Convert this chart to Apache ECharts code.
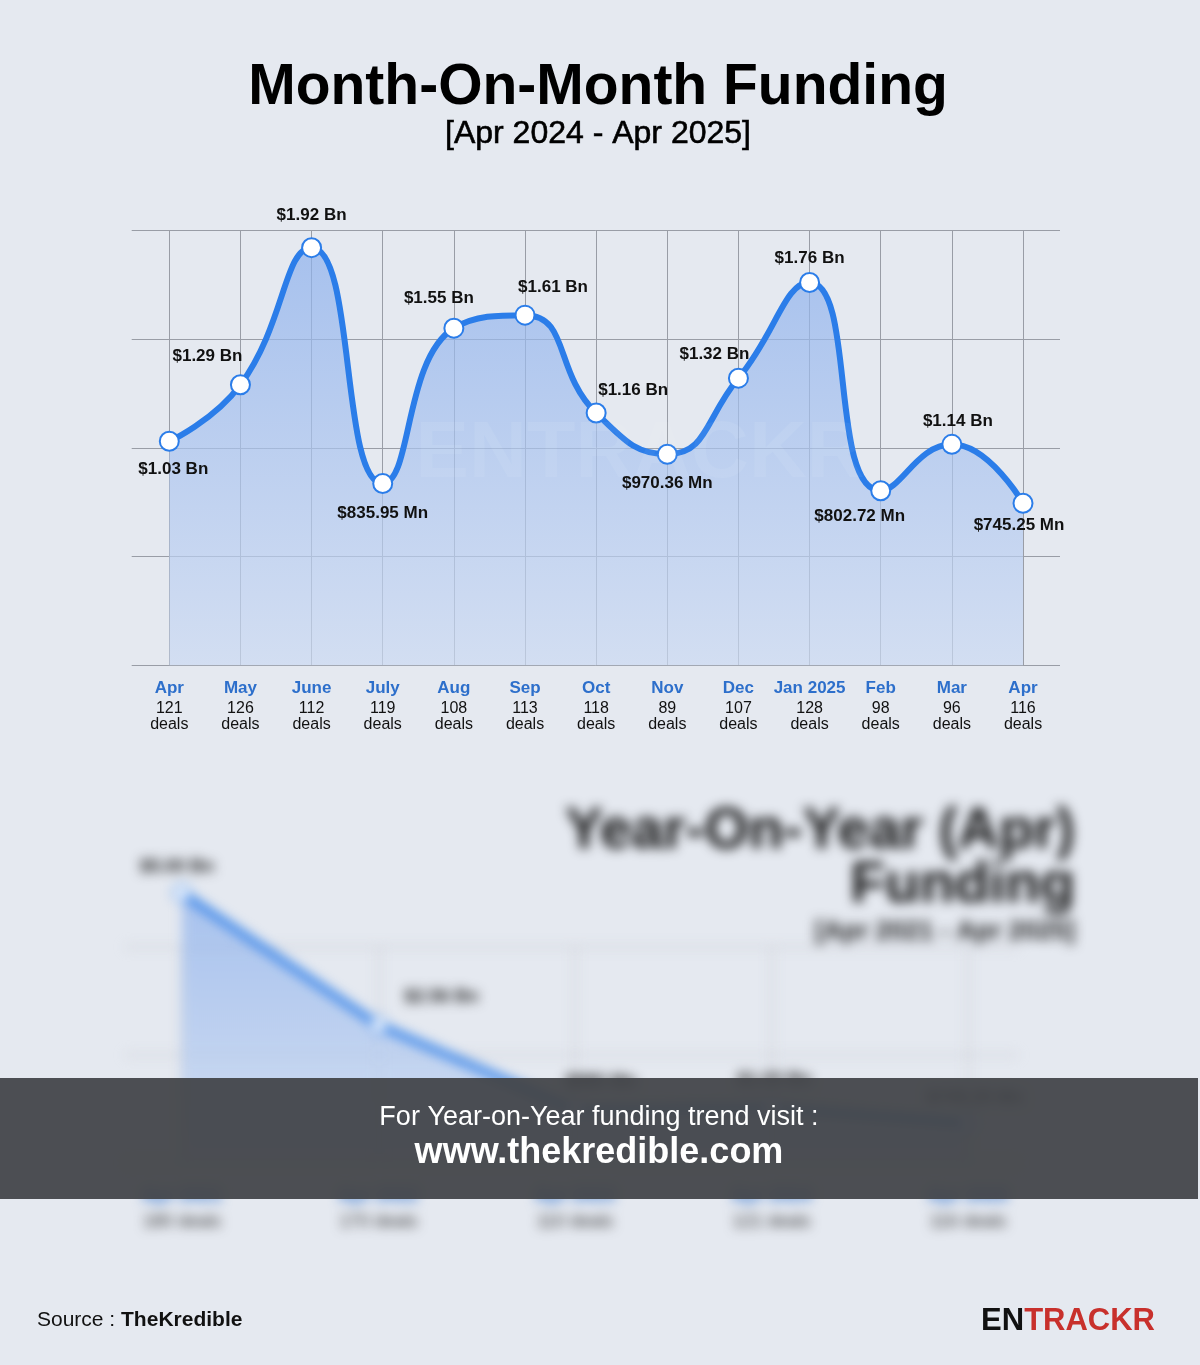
<!DOCTYPE html>
<html>
<head>
<meta charset="utf-8">
<script src="https://cdn.jsdelivr.net/npm/echarts@6/dist/echarts.min.js"></script>
<style>
  html, body { margin:0; padding:0; background:#e5e9f0; }
  #blur { position:absolute; left:0; top:0; width:1200px; height:1365px; filter:blur(6px); z-index:1; }
  #main { position:absolute; left:0; top:0; width:1200px; height:1365px; z-index:2; }
</style>
</head>
<body>
<div id="blur"></div>
<div id="main"></div>
<script>
// ---------- Month-on-month data ----------
const months = ['Apr','May','June','July','Aug','Sep','Oct','Nov','Dec','Jan 2025','Feb','Mar','Apr'];
const deals = [121,126,112,119,108,113,118,89,107,128,98,96,116];
// funding in USD millions, as plotted in the picture (Mar point is drawn lower than its label)
const fundingMn = [1030,1290,1920,835.95,1550,1610,1160,970.36,1320,1760,802.72,1016,745.25];
const fundingLabels = ['$1.03 Bn','$1.29 Bn','$1.92 Bn','$835.95 Mn','$1.55 Bn','$1.61 Bn','$1.16 Bn','$970.36 Mn','$1.32 Bn','$1.76 Bn','$802.72 Mn','$1.14 Bn','$745.25 Mn'];
const yMin = 0, yMax = 2000, yStep = 500;

// ---------- Year-on-year (blurred) data ----------
const yoyYears = ['Apr 2021','Apr 2022','Apr 2023','Apr 2024','Apr 2025'];
const yoyDeals = [180,170,110,121,116];
const yoyMn = [5000,2555,980,1030,745.25];
const yoyLabels = ['$5.00 Bn','$2.56 Bn','$980 Mn','$1.03 Bn','$745.25 Mn'];
const yoyMin = 0, yoyMax = 4000, yoyStep = 2000;

// ---------- layout / style (not data) ----------
const labelOffsets = [[4,28],[-33,-28],[0,-32],[0,30],[-15,-30],[28,-28],[37,-23],[0,29],[-24,-24],[0,-24],[-21,26],[6,-23],[-4,22]];
const yoyLabelOffsets = [[-5,-26],[63,-28],[26,-28],[3,-27],[7,-25]];
const FONT = '"Liberation Sans", Arial, Helvetica, sans-serif';
const BLUE = '#2b7de9';
const GRIDC = '#999da6';

// ---------- blurred YoY chart ----------
const blur = echarts.init(document.getElementById('blur'), null, {renderer:'canvas'});
blur.setOption({
  backgroundColor: 'transparent',
  animation: false,
  grid: [
    {left:182, right:232, top:947, bottom:1365-1163},
    {left:125, right:182, top:947, bottom:1365-1163}
  ],
  xAxis: [
    {type:'category', gridIndex:0, data: yoyYears, boundaryGap:false,
     axisLine:{show:false}, axisTick:{show:false},
     splitLine:{show:true, lineStyle:{color:'#c9ccd3', width:2}},
     axisLabel:{interval:0, margin:18,
       formatter:(v,i)=>'{m|'+v+'}\n{d|'+yoyDeals[i]+' deals}',
       rich:{m:{fontFamily:FONT, fontWeight:'bold', fontSize:19, color:'#2d6fcb', lineHeight:30},
             d:{fontFamily:FONT, fontSize:18, color:'#333', lineHeight:22}}}},
    {type:'value', gridIndex:1, show:false, min:0, max:1}
  ],
  yAxis: [
    {type:'value', gridIndex:0, min:yoyMin, max:yoyMax, interval:yoyStep, show:false},
    {type:'value', gridIndex:1, min:yoyMin, max:yoyMax, interval:yoyStep,
     axisLine:{show:false}, axisTick:{show:false}, axisLabel:{show:false},
     splitLine:{show:true, lineStyle:{color:'#c9ccd3', width:2}}}
  ],
  series: [{
    type:'line', xAxisIndex:0, yAxisIndex:0, clip:false,
    data: yoyMn.map((v,i)=>({value:v, label:{offset:yoyLabelOffsets[i]}})),
    lineStyle:{color:BLUE, width:7},
    symbol:'circle', symbolSize:16,
    itemStyle:{color:'#fff', borderColor:BLUE, borderWidth:2},
    areaStyle:{color:new echarts.graphic.LinearGradient(0,0,0,1,[{offset:0,color:'#8cb0eb'},{offset:1,color:'#c9d9f1'}])},
    label:{show:true, position:'inside', formatter:(p)=>yoyLabels[p.dataIndex],
      fontFamily:FONT, fontWeight:'bold', fontSize:18, color:'#222'}
  }],
  graphic: [
    {type:'text', x:1075, y:832, style:{text:'Year-On-Year (Apr)', align:'right', verticalAlign:'middle',
      font:'bold 57px '+FONT, fill:'#111'}},
    {type:'text', x:1075, y:886, style:{text:'Funding', align:'right', verticalAlign:'middle',
      font:'bold 57px '+FONT, fill:'#111'}},
    {type:'text', x:1075, y:932, style:{text:'[Apr 2021 - Apr 2025]', align:'right', verticalAlign:'middle',
      font:'bold 26px '+FONT, fill:'#222'}}
  ]
});

// ---------- main chart ----------
const chart = echarts.init(document.getElementById('main'), null, {renderer:'canvas'});
chart.setOption({
  backgroundColor: 'transparent',
  animation: false,
  grid: [
    {left:169.3, width:853.7, top:230.3, height:435},
    {left:131.7, width:928.3, top:230.3, height:435}
  ],
  xAxis: [
    {type:'category', gridIndex:0, data: months, boundaryGap:false,
     axisLine:{show:false}, axisTick:{show:false},
     splitLine:{show:true, interval:0, lineStyle:{color:GRIDC, width:1}},
     axisLabel:{interval:0, margin:11,
       formatter:(v,i)=>'{m|'+v+'}\n{d|'+deals[i]+'}\n{d|deals}',
       rich:{m:{fontFamily:FONT, fontWeight:'bold', fontSize:17, color:'#2d6fcb', lineHeight:24},
             d:{fontFamily:FONT, fontSize:16, color:'#111', lineHeight:16}}}},
    {type:'value', gridIndex:1, show:false, min:0, max:1}
  ],
  yAxis: [
    {type:'value', gridIndex:0, min:yMin, max:yMax, interval:yStep, show:false},
    {type:'value', gridIndex:1, min:yMin, max:yMax, interval:yStep,
     axisLine:{show:false}, axisTick:{show:false}, axisLabel:{show:false},
     splitLine:{show:true, lineStyle:{color:GRIDC, width:1}}}
  ],
  series: [{
    type:'line', xAxisIndex:0, yAxisIndex:0, smooth:0.5, z:3,
    data: fundingMn.map((v,i)=>({value:v, label:{offset:labelOffsets[i]}})),
    lineStyle:{color:BLUE, width:6},
    symbol:'circle', symbolSize:19,
    itemStyle:{color:'#fff', borderColor:BLUE, borderWidth:2},
    areaStyle:{color:new echarts.graphic.LinearGradient(0,0,0,1,[{offset:0,color:'#8cb0eb'},{offset:1,color:'#cad9f1'}])},
    label:{show:true, position:'inside', formatter:(p)=>fundingLabels[p.dataIndex],
      fontFamily:FONT, fontWeight:'bold', fontSize:17, color:'#111'}
  }],
  graphic: [
    {type:'text', x:598, y:88, z:10, style:{text:'Month-On-Month Funding', align:'center', verticalAlign:'middle',
      font:'bold 57px '+FONT, fill:'#000'}},
    {type:'text', x:598, y:134, z:10, style:{text:'[Apr 2024 - Apr 2025]', align:'center', verticalAlign:'middle',
      font:'32px '+FONT, fill:'#000', stroke:'#000', lineWidth:0.6}},
    {type:'text', x:640, y:455, z:4, style:{text:'ENTRACKR', align:'center', verticalAlign:'middle',
      font:'bold 80px '+FONT, fill:'rgba(255,255,255,0.05)'}},
    {type:'rect', z:20, shape:{x:0, y:1078, width:1198, height:121}, style:{fill:'rgba(66,68,72,0.94)'}},
    {type:'text', x:599, y:1118, z:21, style:{text:'For Year-on-Year funding trend visit :', align:'center', verticalAlign:'middle',
      font:'27px '+FONT, fill:'#fff'}},
    {type:'text', x:599, y:1153, z:21, style:{text:'www.thekredible.com', align:'center', verticalAlign:'middle',
      font:'bold 36px '+FONT, fill:'#fff'}},
    {type:'text', x:37, y:1320, z:21, style:{
      text:'{a|Source : }{b|TheKredible}', verticalAlign:'middle',
      rich:{a:{fontFamily:FONT, fontSize:21, fill:'#111'}, b:{fontFamily:FONT, fontSize:21, fontWeight:'bold', fill:'#111'}}}},
    {type:'text', x:1155, y:1321, z:21, style:{
      text:'{a|EN}{b|TRACKR}', align:'right', verticalAlign:'middle',
      rich:{a:{fontFamily:FONT, fontSize:31, fontWeight:'bold', fill:'#111'}, b:{fontFamily:FONT, fontSize:31, fontWeight:'bold', fill:'#c8302c'}}}}
  ]
});
</script>
</body>
</html>
